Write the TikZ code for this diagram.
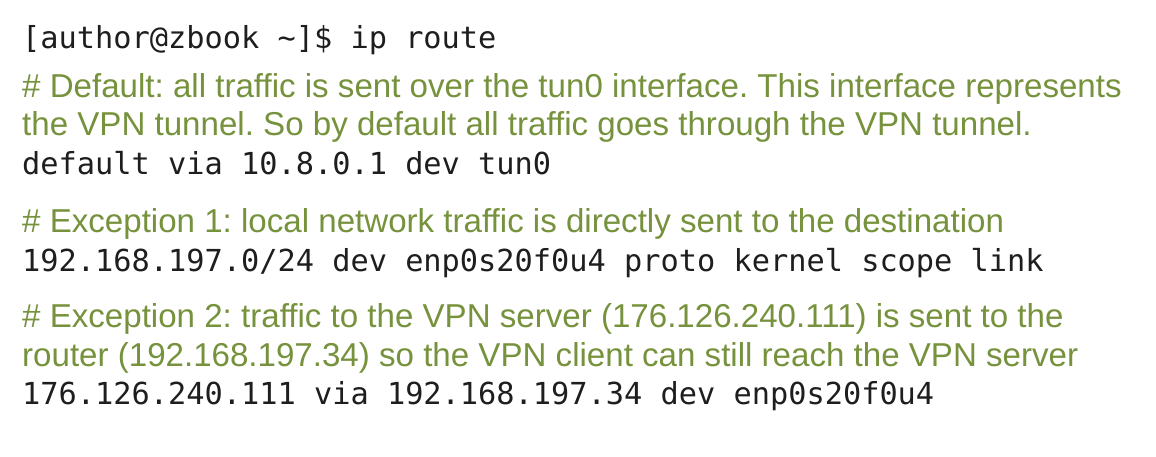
\documentclass[tikz,border=0pt]{standalone}
\usepackage{fontspec}
\setmainfont{Liberation Sans}
\newfontfamily\monofnt{DejaVu Sans Mono}
\definecolor{cmtgreen}{RGB}{118,146,60}
\definecolor{cmdblack}{RGB}{30,30,30}
\tikzset{
  cmd/.style={anchor=base west, inner sep=0pt, text=cmdblack, font=\monofnt\fontsize{30.3pt}{36pt}\selectfont},
  cmt/.style={anchor=base west, inner sep=0pt, text=cmtgreen, font=\frenchspacing\fontsize{33.1pt}{38pt}\selectfont}
}
\begin{document}
\frenchspacing
\begin{tikzpicture}[x=1pt,y=1pt]
\useasboundingbox[fill=white] (0,0) rectangle (1156,-456);
\node[cmd] (prompt) at (22,-48) {[author@zbook \textasciitilde]\$ ip route};
\node[cmt] (c1a) at (22,-97) {\# Default: all traffic is sent over the tun0 interface. This interface represents};
\node[cmt] (c1b) at (22,-135) {the VPN tunnel. So by default all traffic goes through the VPN tunnel.};
\node[cmd] (r1) at (22,-174) {default via 10.8.0.1 dev tun0};
\node[cmt] (c2) at (22,-232) {\# Exception 1: local network traffic is directly sent to the destination};
\node[cmd] (r2) at (22,-271) {192.168.197.0/24 dev enp0s20f0u4 proto kernel scope link};
\node[cmt] (c3a) at (22,-327) {\# Exception 2: traffic to the VPN server (176.126.240.111) is sent to the};
\node[cmt] (c3b) at (22,-366) {router (192.168.197.34) so the VPN client can still reach the VPN server};
\node[cmd] (r3) at (22,-404) {176.126.240.111 via 192.168.197.34 dev enp0s20f0u4};
\end{tikzpicture}
\end{document}
